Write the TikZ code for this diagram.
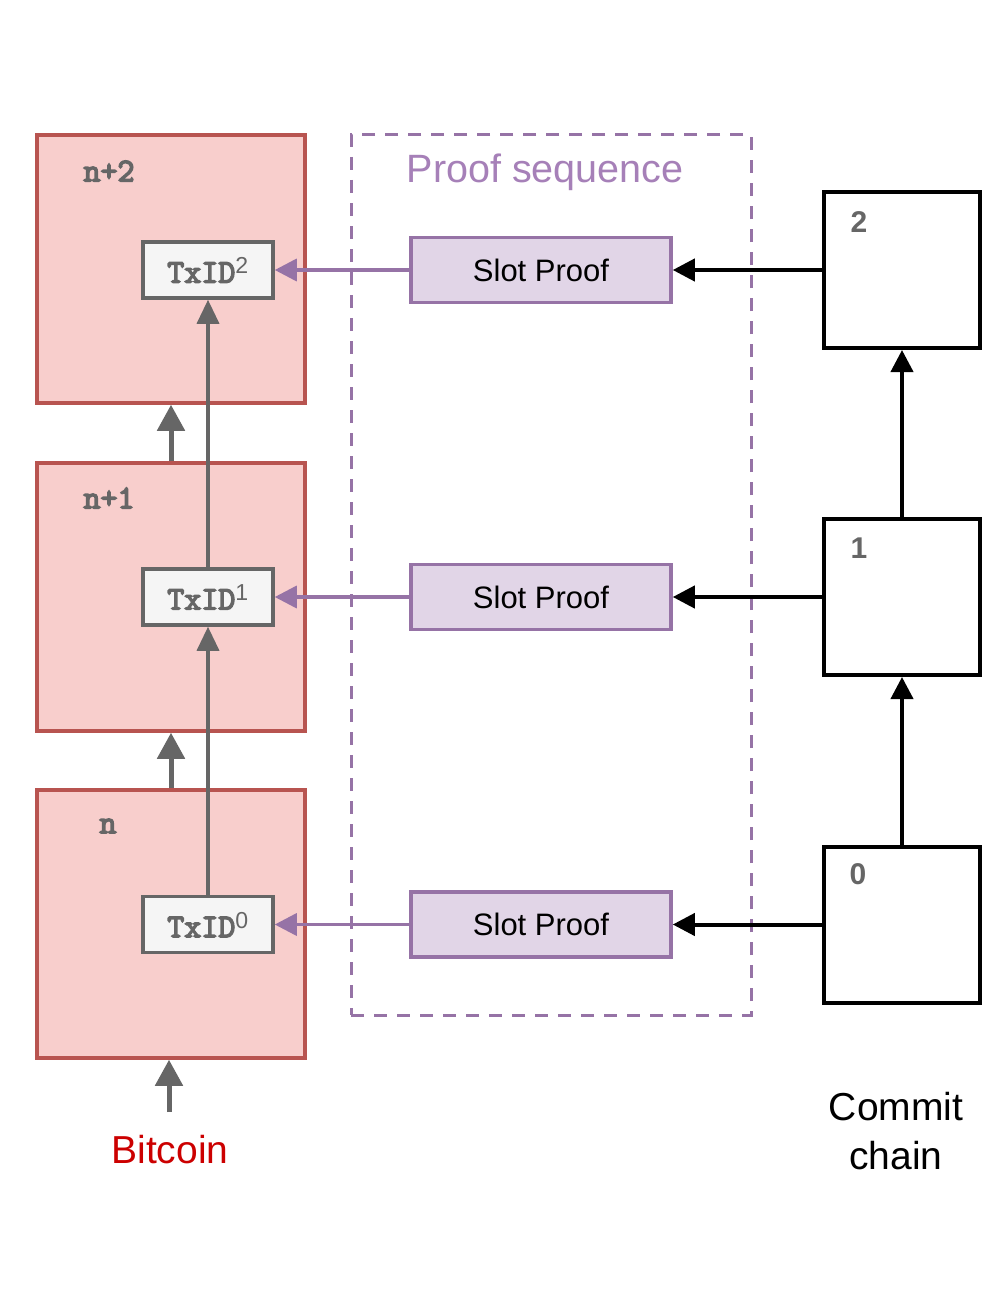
\documentclass[tikz,border=0pt]{standalone}
\usepackage{fontspec}
\setmainfont{Liberation Sans}
\usetikzlibrary{arrows.meta}
\definecolor{blkfill}{HTML}{F8CECC}
\definecolor{blkdraw}{HTML}{B85450}
\definecolor{txfill}{HTML}{F5F5F5}
\definecolor{gry}{HTML}{666666}
\definecolor{pfill}{HTML}{E1D5E7}
\definecolor{pdraw}{HTML}{9673A6}
\definecolor{ptitle}{HTML}{A680B8}
\definecolor{btc}{HTML}{CC0000}
\newfontfamily\monob[FakeBold=4.5]{Latin Modern Mono}
\tikzset{
  block/.style={draw=blkdraw, fill=blkfill, line width=3.5pt, minimum width=268pt, minimum height=268pt, inner sep=0pt},
  txbox/.style={draw=gry, fill=txfill, line width=3.5pt, minimum width=130pt, minimum height=56pt, inner sep=0pt, text=gry, font=\fontsize{33}{36}\selectfont\monob},
  slotbox/.style={draw=pdraw, fill=pfill, line width=3.5pt, minimum width=260pt, minimum height=65pt, inner sep=0pt, font=\fontsize{31}{36}\selectfont},
  commitbox/.style={draw=black, fill=white, line width=4pt, minimum width=156pt, minimum height=156pt, inner sep=0pt},
  lbl/.style={text=gry, inner sep=0pt, font=\fontsize{33}{36}\selectfont\monob},
  clbl/.style={text=gry, inner sep=0pt, font=\fontsize{30}{36}\selectfont\bfseries},
  blkarrow/.style={draw=gry, line width=5pt, -{Triangle[length=26pt,width=27pt]}},
  txarrow/.style={draw=gry, line width=3.5pt, -{Triangle[length=24pt,width=22pt]}},
  parrow/.style={draw=pdraw, line width=3.5pt, -{Triangle[length=22pt,width=22pt]}},
  karrow/.style={draw=black, line width=4pt, -{Triangle[length=22pt,width=22pt]}},
  big/.style={inner sep=0pt, font=\fontsize{39}{49}\selectfont}
}
\begin{document}
\begin{tikzpicture}[x=1pt,y=-1pt]
\useasboundingbox[fill=white] (0,0) rectangle (994,1300);
% dashed proof sequence frame
\node[draw=pdraw, dash pattern=on 13pt off 10pt, line width=3pt, minimum width=400pt, minimum height=880pt, inner sep=0pt] (frame) at (551,575) {};
\node[big, text=ptitle, font=\fontsize{39.5}{49}\selectfont] (ptitle) at (545,172) {Proof sequence};
% bitcoin blocks
\node[block] (b2) at (171,269) {};
\node[block] (b1) at (171,597) {};
\node[block] (b0) at (171,924) {};
\node[lbl] (l2) at (109,171) {n+2};
\node[lbl] (l1) at (109,498) {n+1};
\node[lbl] (l0) at (108,826) {n};
\node[txbox] (t2) at (208,270) {TxID\textsuperscript{\rmfamily 2}};
\node[txbox] (t1) at (208,597) {TxID\textsuperscript{\rmfamily 1}};
\node[txbox] (t0) at (208,924.5) {TxID\textsuperscript{\rmfamily 0}};
% slot proofs
\node[slotbox] (s2) at (541,270) {Slot Proof};
\node[slotbox] (s1) at (541,597) {Slot Proof};
\node[slotbox] (s0) at (541,924.5) {Slot Proof};
% commit chain
\node[commitbox] (c2) at (902,270) {};
\node[commitbox] (c1) at (902,597) {};
\node[commitbox] (c0) at (902,924.5) {};
\node[clbl] (cl2) at (859,222) {2};
\node[clbl] (cl1) at (859,548) {1};
\node[clbl] (cl0) at (858,874) {0};
% texts
\node[big, text=btc] (btc) at (170,1150) {Bitcoin};
\node[big, align=center] (cc) at (896,1131) {Commit\\chain};
\coordinate (bstart) at (169,1112);
% arrows
\draw[blkarrow] (bstart) -- (bstart |- b0.south);
\draw[blkarrow] (b0.north) -- (b1.south);
\draw[blkarrow] (b1.north) -- (b2.south);
\draw[txarrow] (t0.north) -- (t1.south);
\draw[txarrow] (t1.north) -- (t2.south);
\draw[parrow] (s2.west) -- (t2.east);
\draw[parrow] (s1.west) -- (t1.east);
\draw[parrow] (s0.west) -- (t0.east);
\draw[karrow] (c2.west) -- (s2.east);
\draw[karrow] (c1.west) -- (s1.east);
\draw[karrow] (c0.west) -- (s0.east);
\draw[karrow] (c0.north) -- (c1.south);
\draw[karrow] (c1.north) -- (c2.south);
\end{tikzpicture}
\end{document}
